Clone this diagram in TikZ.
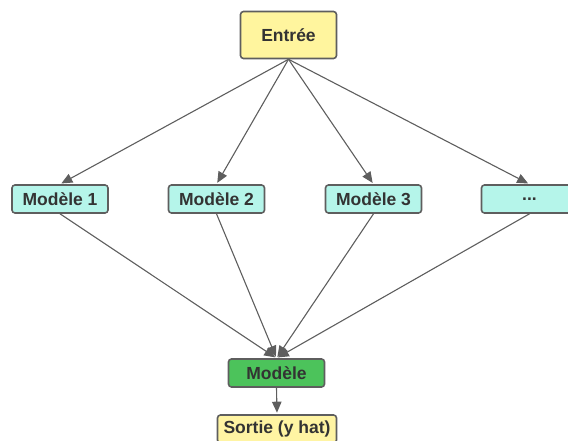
\documentclass[tikz,border=0pt]{standalone}
\usepackage{fontspec}
\setmainfont{Liberation Sans}
\usetikzlibrary{arrows.meta}
\definecolor{edgegray}{HTML}{5E5E5E}
\definecolor{inyellow}{HTML}{FFF59E}
\definecolor{outyellow}{HTML}{FFF4A3}
\definecolor{modcyan}{HTML}{B5F5EA}
\definecolor{modgreen}{HTML}{4CC35B}
\definecolor{txt}{HTML}{333333}
\tikzset{
  box/.style={draw=edgegray, line width=1.6pt, rounded corners=3pt,
    minimum width=96pt, minimum height=28pt, inner sep=0pt,
    font=\bfseries\fontsize{17.5}{20}\selectfont, text=txt},
  link/.style={draw=edgegray, line width=1.1pt},
  arr/.style={link, shorten >=1.5pt, -{Triangle[length=11pt, width=9.5pt]}}
}
\begin{document}
\begin{tikzpicture}[x=1pt, y=-1pt]
  \useasboundingbox (0,0) rectangle (568,441);
  \clip (0,0) rectangle (568,441);
  % input
  \node[box, fill=inyellow, minimum height=47pt] (in) at (288.5,35) {Entrée};
  % ensemble members
  \node[box, fill=modcyan] (m1) at (60,199) {Modèle 1};
  \node[box, fill=modcyan] (m2) at (216.5,199) {Modèle 2};
  \node[box, fill=modcyan] (m3) at (373.5,199) {Modèle 3};
  \node[box, fill=modcyan] (m4) at (529.5,199) {...};
  % combining model and output
  \node[box, fill=modgreen] (mc) at (276.5,373) {Modèle};
  \node[box, fill=outyellow, minimum width=119pt] (out) at (277,429) {Sortie (y hat)};
  % connectors
  \foreach \m in {m1,m2,m3,m4} {
    \draw[arr] (in.south) -- (\m.north);
    \draw[arr] (\m.south) -- (mc.north);
  }
  \draw[arr] (mc.south) -- (out.north);
\end{tikzpicture}
\end{document}
